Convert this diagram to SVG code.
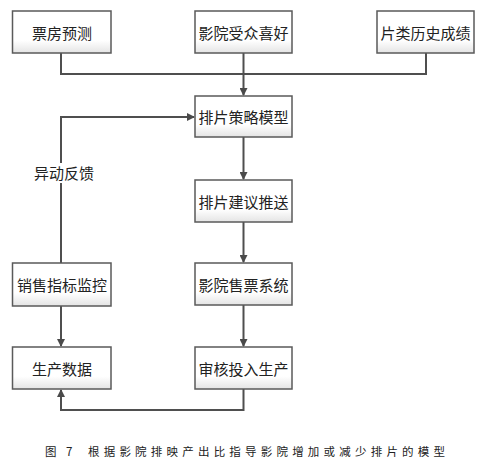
<svg xmlns="http://www.w3.org/2000/svg" width="481" height="471" viewBox="0 0 481 471">
<defs>
<linearGradient id="g" x1="0" y1="0" x2="0" y2="1">
<stop offset="0" stop-color="#ffffff"/>
<stop offset="0.7" stop-color="#ffffff"/>
<stop offset="1" stop-color="#e4e4e4"/>
</linearGradient>
<marker id="ah" markerWidth="8" markerHeight="8" refX="7" refY="4" orient="auto" markerUnits="userSpaceOnUse">
<path d="M0,0 L8,4 L0,8 Z" fill="#4a4a4a"/>
</marker>
</defs>
<style>
.box{fill:url(#g);stroke:#5a5a5a;stroke-width:1.5}
.t{font-family:"Noto Sans CJK SC","Liberation Sans",sans-serif;font-size:15px;fill:#222;text-anchor:middle;dominant-baseline:central}
.c{fill:none;stroke:#4f4f4f;stroke-width:2}
.cap{font-family:"Noto Sans CJK SC","Liberation Sans",sans-serif;font-size:11.5px;fill:#222}
</style>
<rect width="481" height="471" fill="#fff"/>
<g id="connectors">
<path class="c" d="M61,53 V74 H426 V53"/>
<path class="c" d="M243.5,53 V95" marker-end="url(#ah)"/>
<path class="c" d="M243.5,137 V179" marker-end="url(#ah)"/>
<path class="c" d="M243.5,222 V262" marker-end="url(#ah)"/>
<path class="c" d="M243.5,305 V346" marker-end="url(#ah)"/>
<path class="c" d="M61,306 V346" marker-end="url(#ah)"/>
<path class="c" d="M61,263 V117 H194" marker-end="url(#ah)"/>
<path class="c" d="M243.5,389 V410 H61 V390" marker-end="url(#ah)"/>
<rect x="34" y="163" width="60" height="20" fill="#fff"/>
<text class="t" x="64" y="172">异动反馈</text>
</g>
<g id="n1"><rect class="box" x="12.5" y="11" width="98.5" height="42"/><text class="t" x="62" y="32">票房预测</text></g>
<g id="n2"><rect class="box" x="195" y="11" width="97" height="42"/><text class="t" x="243.5" y="32">影院受众喜好</text></g>
<g id="n3"><rect class="box" x="377" y="11" width="97" height="42"/><text class="t" x="425.5" y="32">片类历史成绩</text></g>
<g id="n4"><rect class="box" x="195" y="96" width="97" height="41"/><text class="t" x="243.5" y="116">排片策略模型</text></g>
<g id="n5"><rect class="box" x="195" y="180" width="97" height="42"/><text class="t" x="243.5" y="201">排片建议推送</text></g>
<g id="n6"><rect class="box" x="12.5" y="263" width="98.5" height="43"/><text class="t" x="62" y="284">销售指标监控</text></g>
<g id="n7"><rect class="box" x="195" y="263" width="97" height="42"/><text class="t" x="243.5" y="284">影院售票系统</text></g>
<g id="n8"><rect class="box" x="12.5" y="347" width="98.5" height="42"/><text class="t" x="62" y="368">生产数据</text></g>
<g id="n9"><rect class="box" x="195" y="347" width="97" height="42"/><text class="t" x="243.5" y="368">审核投入生产</text></g>
<text class="cap" x="45" y="456">图</text>
<text class="cap" x="66" y="456">7</text>
<text class="cap" x="88" y="456" textLength="357" lengthAdjust="spacing">根据影院排映产出比指导影院增加或减少排片的模型</text>
</svg>
